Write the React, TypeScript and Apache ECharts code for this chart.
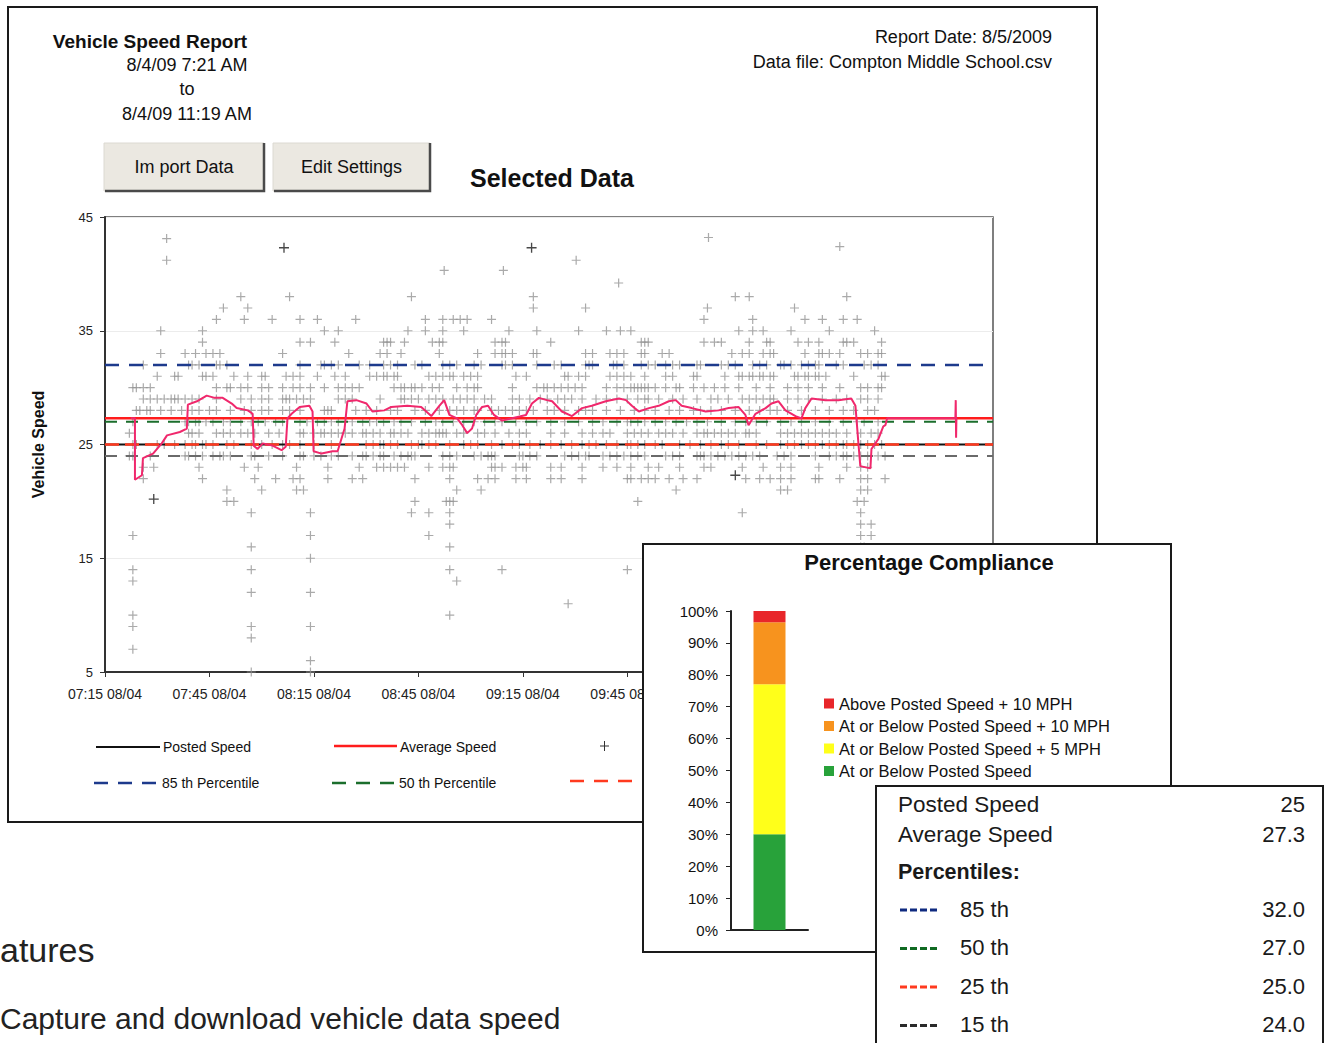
import React, { useEffect, useRef } from 'react';
import * as echarts from 'echarts';

// ---------- time axis ----------
const startClockMinutes = 7 * 60 + 15; // 07:15
const dateLabel = '08/04';
const axisMaxMinutes = 255;
const tickStepMinutes = 30;
const lastVisibleTick = 150; // later tick labels sit under the compliance panel

// ---------- scatter: vehicle speeds (minutes after 07:15, per speed row) ----------
const row38 = [39, 53, 88, 123, 181, 185, 213];
const row37 = [34, 41, 123, 138, 173, 198];
const row36 = [32, 40, 48, 56, 61, 72, 92, 97, 100, 102, 104, 111, 172, 186, 201, 206, 212, 216];
const row35 = [16, 28, 63, 67, 87, 92, 97, 103, 116, 124, 136, 144, 148, 151, 182, 186, 189, 197, 208, 221];
const row34 = [28, 56, 59, 66, 80, 81, 82, 86, 94, 96, 97, 112, 114, 115, 128, 154, 155, 156, 172, 175, 177, 185, 190, 191, 199, 202, 205, 212, 213, 215, 223];
const row33 = [16, 23, 26, 29, 31, 33, 51, 70, 79, 81, 85, 96, 107, 112, 114, 115, 117, 123, 124, 138, 140, 145, 147, 149, 154, 155, 160, 162, 180, 183, 185, 189, 191, 192, 201, 205, 206, 208, 211, 217, 219, 222, 223];
const row32 = [11, 24, 25, 27, 32, 33, 35, 56, 62, 63, 65, 67, 73, 76, 80, 82, 84, 89, 91, 97, 99, 101, 106, 108, 114, 115, 117, 124, 129, 131, 138, 139, 140, 146, 147, 149, 154, 156, 158, 161, 163, 165, 170, 171, 177, 179, 181, 186, 188, 190, 194, 195, 197, 200, 202, 204, 205, 210, 212, 218, 220, 222];
const row31 = [15, 20, 21, 28, 29, 31, 37, 41, 45, 46, 52, 54, 56, 61, 66, 69, 76, 78, 80, 81, 83, 84, 93, 95, 97, 99, 100, 103, 105, 107, 118, 121, 132, 133, 136, 138, 145, 147, 149, 151, 155, 161, 163, 169, 170, 178, 182, 183, 185, 186, 188, 189, 191, 192, 198, 199, 201, 202, 204, 205, 207, 215, 223, 224];
const row30 = [8, 9, 11, 13, 32, 35, 36, 39, 41, 45, 47, 51, 54, 56, 59, 63, 67, 69, 71, 73, 83, 85, 86, 88, 89, 91, 94, 96, 101, 104, 106, 107, 117, 124, 126, 127, 129, 131, 133, 135, 137, 144, 147, 149, 151, 152, 153, 154, 155, 156, 158, 161, 164, 165, 169, 172, 175, 178, 182, 187, 191, 196, 199, 202, 206, 211, 217, 219, 222, 223];
const row29 = [11, 13, 15, 17, 19, 20, 21, 23, 25, 27, 32, 39, 42, 45, 47, 51, 52, 53, 55, 57, 59, 67, 69, 71, 79, 85, 86, 88, 90, 93, 95, 97, 100, 102, 104, 106, 109, 111, 117, 119, 122, 125, 127, 130, 132, 134, 137, 141, 144, 147, 150, 153, 155, 156, 159, 163, 166, 170, 174, 176, 179, 183, 185, 187, 189, 191, 192, 196, 199, 202, 206, 210, 213, 217, 219, 222];
const row28 = [9, 10, 12, 13, 16, 19, 22, 25, 27, 30, 32, 36, 40, 42, 45, 47, 51, 53, 56, 63, 64, 65, 72, 75, 78, 82, 84, 89, 92, 96, 99, 101, 103, 106, 107, 111, 113, 115, 117, 119, 121, 123, 127, 129, 132, 136, 138, 140, 144, 148, 152, 155, 158, 162, 165, 169, 171, 174, 177, 181, 185, 188, 191, 193, 196, 200, 204, 208, 212, 215, 219, 221];
const row27 = [8, 23, 24, 26, 27, 29, 31, 34, 36, 39, 42, 44, 46, 49, 51, 56, 58, 61, 63, 65, 67, 71, 74, 76, 78, 80, 83, 85, 88, 92, 95, 97, 100, 103, 106, 109, 112, 114, 118, 121, 124, 128, 132, 136, 140, 143, 147, 150, 151, 153, 155, 158, 161, 164, 167, 170, 173, 177, 181, 184, 187, 190, 194, 197, 200, 204, 208, 212, 216, 218, 222];
const row26 = [7, 24, 25, 27, 32, 34, 36, 39, 41, 43, 47, 50, 56, 57, 60, 62, 63, 65, 67, 69, 71, 74, 75, 77, 79, 82, 83, 85, 87, 91, 93, 95, 96, 97, 98, 101, 103, 107, 109, 112, 116, 119, 121, 128, 132, 137, 140, 143, 145, 150, 152, 154, 156, 159, 161, 163, 166, 170, 172, 173, 175, 177, 179, 181, 184, 185, 187, 194, 196, 198, 200, 202, 204, 206, 208, 210, 213, 217, 220, 222];
const row25 = [8, 9, 15, 17, 20, 23, 25, 26, 28, 29, 31, 35, 37, 42, 45, 48, 51, 53, 56, 60, 65, 75, 77, 79, 80, 82, 84, 88, 90, 91, 93, 95, 99, 103, 105, 107, 111, 114, 117, 119, 122, 125, 128, 131, 134, 137, 139, 141, 144, 147, 150, 151, 153, 155, 158, 160, 165, 168, 171, 174, 177, 179, 182, 187, 190, 194, 196, 198, 200, 202, 204, 206, 208, 210, 212, 213, 215, 217, 219, 221, 223];
const row24 = [7, 8, 13, 23, 24, 26, 28, 31, 33, 34, 36, 42, 43, 47, 51, 56, 57, 60, 62, 65, 67, 71, 74, 75, 77, 79, 80, 83, 85, 87, 88, 89, 97, 99, 101, 106, 108, 110, 111, 112, 119, 120, 122, 124, 132, 134, 136, 138, 139, 143, 145, 147, 149, 151, 153, 155, 161, 163, 165, 170, 171, 172, 174, 176, 178, 180, 182, 184, 186, 188, 193, 195, 197, 204, 208, 210, 212, 213, 215, 217, 219, 222, 224];
const row23 = [11, 14, 27, 40, 44, 55, 64, 73, 78, 80, 82, 84, 86, 93, 97, 99, 100, 111, 112, 114, 118, 120, 121, 128, 131, 137, 143, 147, 151, 156, 159, 165, 172, 174, 183, 189, 194, 197, 205, 213, 217, 219];
const row22 = [11, 28, 43, 49, 54, 56, 64, 71, 74, 89, 99, 107, 110, 112, 118, 121, 128, 131, 137, 150, 151, 154, 156, 158, 162, 166, 170, 184, 188, 191, 194, 197, 204, 205, 211, 217, 219, 224];
const row21 = [35, 45, 55, 57, 101, 108, 164, 194, 196, 217, 219];
const row20 = [35, 37, 89, 98, 99, 100, 153, 216, 218];
const row19 = [42, 59, 88, 93, 99, 183, 217];
const row18 = [99, 217, 220];
const row17 = [8, 59, 93, 217, 220];
const row16 = [42, 99, 217, 218];
const row15 = [59];
const row14 = [8, 42, 99, 114, 150];
const row13 = [8, 101];
const row12 = [42, 59];
const row11 = [133];
const row10 = [8, 99];
const row9 = [8, 42, 59];
const row8 = [42];
const row7 = [8];
const row6 = [59];
const row5 = [42, 59];
const rowSpeeds = [38, 37, 36, 35, 34, 33, 32, 31, 30, 29, 28, 27, 26, 25, 24, 23, 22, 21, 20, 19, 18, 17, 16, 15, 14, 13, 12, 11, 10, 9, 8, 7, 6, 5];
const rowTimes = [row38, row37, row36, row35, row34, row33, row32, row31, row30, row29, row28, row27, row26, row25, row24, row23, row22, row21, row20, row19, row18, row17, row16, row15, row14, row13, row12, row11, row10, row9, row8, row7, row6, row5];

// high outliers
const outlierTimes = [17.7, 17.7, 173.3, 211, 135.3, 97.4, 114.4, 147.5];
const outlierSpeeds = [43.1, 41.2, 43.2, 42.4, 41.2, 40.3, 40.3, 39.2];
// darker (black) marks
const darkTimes = [14, 51.4, 122.5, 181];
const darkSpeeds = [20.2, 42.3, 42.3, 22.3];

// running average speed trace [minutes, mph]
const movingAvg: number[][] = [[7.4, 27.3], [8.6, 27.3], [8.6, 21.9], [10.6, 22.3], [10.9, 23.8], [13.8, 24.2], [16.3, 25.1], [17.8, 25.8], [21.5, 26.1], [23.5, 26.4], [23.8, 28.5], [26.4, 28.8], [29.2, 29.3], [31.5, 29.1], [33.8, 29.1], [36.4, 28.6], [37.8, 28.2], [41, 28.0], [42.4, 27.7], [42.7, 24.9], [43.8, 24.6], [45.3, 25.1], [48.1, 24.9], [50.7, 24.5], [51.9, 24.8], [52.4, 27.3], [53.6, 27.7], [55.9, 28.3], [58.7, 28.4], [59.6, 27.9], [59.9, 24.4], [62.2, 24.2], [65.3, 24.4], [66.8, 24.4], [68.8, 26.4], [69.6, 28.8], [72.2, 28.9], [75.1, 28.6], [76.8, 27.9], [80.2, 28.0], [82.2, 28.3], [86.8, 28.4], [90.8, 28.3], [93.7, 27.5], [96, 28.4], [97.4, 28.9], [98.9, 27.6], [101.1, 27.3], [102.6, 26.7], [104, 26.0], [105.4, 26.4], [106.6, 27.6], [108.3, 28.3], [110, 28.4], [111.7, 27.6], [114, 27.1], [116.9, 27.3], [120.9, 27.6], [122.6, 28.6], [124.6, 29.1], [126.9, 28.9], [128.4, 28.8], [131.2, 27.9], [134.1, 27.5], [137, 28.2], [139.8, 28.4], [143.8, 28.8], [147.6, 29.05], [149.6, 28.9], [151.3, 28.4], [153.3, 27.9], [156.2, 28.2], [159, 28.4], [161.9, 28.8], [163.9, 28.9], [165.6, 28.4], [168.5, 28.2], [172.5, 27.9], [176.2, 28.0], [179.1, 28.2], [181.9, 28.3], [183.9, 27.6], [184.8, 26.7], [186.8, 27.7], [189.7, 28.2], [191.4, 28.6], [193.4, 28.8], [195.4, 28.0], [198.3, 27.5], [200, 27.3], [201.1, 28.2], [202.9, 29.05], [206.9, 28.9], [210.6, 28.9], [214.3, 29.05], [215.5, 28.4], [216.3, 25.3], [216.9, 23.1], [219.8, 22.9], [220.1, 24.6], [222.1, 25.5], [223.5, 26.6], [224.1, 26.7], [224.6, 27.3], [244.2, 27.3], [244.3, 28.9], [244.4, 25.6], [244.5, 27.3]];

// ---------- summary statistics ----------
const postedSpeed = 25;
const averageSpeed = 27.3;
const percentileNames = ['85 th', '50 th', '25 th', '15 th'];
const percentileValues = [32.0, 27.0, 25.0, 24.0];
const percentileColors = ['#1d3a8c', '#1b6e2c', '#ff3a1f', '#6a6a6a'];
const percentileTableColors = ['#0f2a80', '#106a22', '#ff3a1f', '#2a2a2a'];

// ---------- compliance ----------
const complianceNames = ['Above Posted Speed + 10 MPH', 'At or Below Posted Speed + 10 MPH', 'At or Below Posted Speed + 5 MPH', 'At or Below Posted Speed'];
const complianceValues = [3.5, 19.5, 47.0, 30.0];
const complianceColors = ['#e8262a', '#f7931e', '#ffff1a', '#28a23a'];

const FONT = '"Liberation Sans", Arial, Helvetica, sans-serif';
const PLUS = 'path://M3.9,0H5.1V9H3.9ZM0,3.9H9V5.1H0Z';

function clockLabel(v: number) {
  if (v > lastVisibleTick) return '';
  const total = startClockMinutes + v;
  const h = Math.floor(total / 60);
  const m = Math.round(total % 60);
  return String(h).padStart(2, '0') + ':' + String(m).padStart(2, '0') + ' ' + dateLabel;
}

function txt(text: string, x: number, y: number, size: number, opts: any = {}) {
  const align = opts.align || 'left';
  return {
    type: 'text',
    z: 50,
    style: {
      text,
      x,
      y,
      font: (opts.bold ? 'bold ' : '') + size + 'px ' + FONT,
      fill: opts.color || '#111',
      textAlign: align,
      align,
      textVerticalAlign: 'middle',
      verticalAlign: 'middle',
    },
  };
}

function hline(x1: number, x2: number, y: number, color: string, width: number, dash?: number[]) {
  return {
    type: 'line',
    z: 50,
    shape: { x1, y1: y, x2, y2: y },
    style: { stroke: color, lineWidth: width, lineDash: dash || null },
  };
}

function button(x: number, y: number, w: number, h: number, label: string) {
  return [
    { type: 'rect', z: 40, shape: { x, y, width: w, height: h }, style: { fill: '#ebe8e1', stroke: '#dcd9d2', lineWidth: 1 } },
    { type: 'polyline', z: 41, shape: { points: [[x + 1, y + h], [x + w, y + h], [x + w, y]] }, style: { stroke: '#4a4a4a', lineWidth: 2.5, fill: 'none' } },
    txt(label, x + w / 2, y + h / 2, 18, { align: 'center' }),
  ];
}

function mainOption() {
  const scatterData: number[][] = [];
  rowSpeeds.forEach((s, i) => rowTimes[i].forEach((t) => scatterData.push([t, s])));
  outlierTimes.forEach((t, i) => scatterData.push([t, outlierSpeeds[i]]));
  const darkData = darkTimes.map((t, i) => [t, darkSpeeds[i]]);
  const flat = (v: number) => [[0, v], [axisMaxMinutes, v]];

  const series: any[] = [
    { name: 'Vehicles', type: 'scatter', data: scatterData, symbol: PLUS, symbolSize: 9, itemStyle: { color: '#959595' }, z: 2 },
    { name: 'Vehicles (dark)', type: 'scatter', data: darkData, symbol: PLUS, symbolSize: 10, itemStyle: { color: '#1a1a1a' }, z: 2 },
    { name: 'Posted Speed', type: 'line', data: flat(postedSpeed), symbol: 'none', lineStyle: { color: '#111', width: 2 }, z: 3 },
    { name: '15 th Percentile', type: 'line', data: flat(percentileValues[3]), symbol: 'none', lineStyle: { color: percentileColors[3], width: 2, type: [12, 9] }, z: 3 },
    { name: '85 th Percentile', type: 'line', data: flat(percentileValues[0]), symbol: 'none', lineStyle: { color: percentileColors[0], width: 2.5, type: [14, 10] }, z: 3 },
    { name: '25 th Percentile', type: 'line', data: flat(percentileValues[2]), symbol: 'none', lineStyle: { color: percentileColors[2], width: 2.5, type: [14, 6] }, z: 4 },
    { name: '50 th Percentile', type: 'line', data: flat(percentileValues[1]), symbol: 'none', lineStyle: { color: percentileColors[1], width: 2, type: [12, 9] }, z: 4 },
    { name: 'Average Speed', type: 'line', data: flat(averageSpeed), symbol: 'none', lineStyle: { color: '#ff1c1c', width: 2.5 }, z: 5 },
    { name: 'Running Average', type: 'line', data: movingAvg, symbol: 'none', lineStyle: { color: '#f0286c', width: 2 }, z: 6 },
  ];

  const graphic: any[] = [
    { type: 'rect', z: 1, shape: { x: 8, y: 7, width: 1089, height: 815 }, style: { fill: 'none', stroke: '#1a1a1a', lineWidth: 2 } },
    txt('Vehicle Speed Report', 150, 41, 19, { bold: true, align: 'center' }),
    txt('8/4/09 7:21 AM', 187, 65, 18, { align: 'center' }),
    txt('to', 187, 89, 18, { align: 'center' }),
    txt('8/4/09 11:19 AM', 187, 114, 18, { align: 'center' }),
    txt('Report Date: 8/5/2009', 1052, 37, 18, { align: 'right' }),
    txt('Data file: Compton Middle School.csv', 1052, 62, 18, { align: 'right' }),
    ...button(104, 143, 160, 48, 'Im port Data'),
    ...button(273, 143, 157, 48, 'Edit Settings'),
    txt('Selected Data', 552, 178, 25, { bold: true, align: 'center' }),
    // legend
    hline(96, 160, 747, '#111', 2),
    txt('Posted Speed', 163, 747, 14),
    hline(334, 397, 746, '#ff1c1c', 2.5),
    txt('Average Speed', 400, 747, 14),
    { type: 'line', z: 50, shape: { x1: 600, y1: 746, x2: 609, y2: 746 }, style: { stroke: '#333', lineWidth: 1 } },
    { type: 'line', z: 50, shape: { x1: 604.5, y1: 741, x2: 604.5, y2: 751 }, style: { stroke: '#333', lineWidth: 1 } },
    hline(94, 160, 783, percentileColors[0], 2.5, [14, 10]),
    txt('85 th Percentile', 162, 783, 14),
    hline(332, 397, 783, percentileColors[1], 2.5, [14, 10]),
    txt('50 th Percentile', 399, 783, 14),
    hline(570, 650, 781, percentileColors[2], 2.5, [14, 10]),
    // page text behind the report
    txt('atures', 0, 950, 34, { color: '#222' }),
    txt('Capture and download vehicle data speed', 0, 1018, 30, { color: '#222' }),
  ];

  return {
    animation: false,
    backgroundColor: '#ffffff',
    textStyle: { fontFamily: FONT },
    grid: { left: 105, top: 217, width: 888, height: 455, show: true, borderColor: '#555', borderWidth: 1.5, backgroundColor: 'transparent' },
    xAxis: {
      type: 'value', min: 0, max: axisMaxMinutes, interval: tickStepMinutes,
      axisLine: { lineStyle: { color: '#333', width: 2 } },
      axisTick: { length: 5, lineStyle: { color: '#333' } },
      axisLabel: { formatter: clockLabel, fontSize: 14, color: '#222', margin: 15 },
      splitLine: { show: false },
    },
    yAxis: {
      type: 'value', min: 5, max: 45, interval: 10,
      name: 'Vehicle Speed', nameLocation: 'middle', nameGap: 59, nameRotate: 90,
      nameTextStyle: { fontWeight: 'bold', fontSize: 16, color: '#111' },
      axisLine: { show: true, lineStyle: { color: '#333', width: 2 } },
      axisTick: { show: true, length: 5, lineStyle: { color: '#333' } },
      axisLabel: { fontSize: 13, color: '#222', margin: 12 },
      splitLine: { show: true, lineStyle: { color: '#ececec' } },
    },
    series,
    graphic,
  };
}

function complianceOption() {
  return {
    animation: false,
    backgroundColor: '#ffffff',
    textStyle: { fontFamily: FONT },
    grid: { left: 89, top: 68, width: 77, height: 319 },
    legend: {
      orient: 'vertical', left: 177, top: 147, itemWidth: 10, itemHeight: 10, itemGap: 5.5,
      icon: 'rect', data: complianceNames,
      textStyle: { fontSize: 16.5, color: '#111', fontFamily: FONT },
    },
    xAxis: {
      type: 'category', data: ['Compliance'],
      axisLine: { lineStyle: { color: '#222', width: 2 } },
      axisTick: { show: false }, axisLabel: { show: false },
    },
    yAxis: {
      type: 'value', min: 0, max: 100, interval: 10,
      axisLine: { show: true, lineStyle: { color: '#222', width: 2 } },
      axisTick: { show: true, length: 5, lineStyle: { color: '#222' } },
      axisLabel: { formatter: '{value}%', fontSize: 15, color: '#111', margin: 13 },
      splitLine: { show: false },
    },
    series: complianceNames.map((n, i) => ({ name: n, type: 'bar', stack: 'c', barWidth: 32, data: [complianceValues[i]], itemStyle: { color: complianceColors[i] } })).reverse(),
    graphic: [
      { type: 'rect', z: 0, shape: { x: 1, y: 1, width: 528, height: 408 }, style: { fill: 'none', stroke: '#1a1a1a', lineWidth: 2 } },
      txt('Percentage Compliance', 287, 19, 22, { bold: true, align: 'center' }),
    ],
  };
}

function statsOption() {
  const g: any[] = [
    { type: 'rect', z: 0, shape: { x: 1, y: 1, width: 447, height: 300 }, style: { fill: 'none', stroke: '#1a1a1a', lineWidth: 2 } },
    txt('Posted Speed', 23, 19, 22.5, { color: '#1a1a1a' }),
    txt(String(postedSpeed), 430, 19, 22, { align: 'right', color: '#1a1a1a' }),
    txt('Average Speed', 23, 49, 22.5, { color: '#1a1a1a' }),
    txt(averageSpeed.toFixed(1), 430, 49, 22, { align: 'right', color: '#1a1a1a' }),
    txt('Percentiles:', 23, 87, 21.5, { bold: true, color: '#1a1a1a' }),
  ];
  percentileNames.forEach((n, i) => {
    const y = 125 + i * 38.5;
    g.push(hline(25, 62, y, percentileTableColors[i], 3, [7, 3]));
    g.push(txt(n, 85, y - 1, 22, { color: '#1a1a1a' }));
    g.push(txt(percentileValues[i].toFixed(1), 430, y - 1, 22, { align: 'right', color: '#1a1a1a' }));
  });
  return { animation: false, backgroundColor: '#ffffff', graphic: g };
}

export default function App() {
  const mainRef = useRef<HTMLDivElement>(null);
  const compRef = useRef<HTMLDivElement>(null);
  const statRef = useRef<HTMLDivElement>(null);
  useEffect(() => {
    const main = echarts.init(mainRef.current!, null, { renderer: 'svg' });
    main.setOption(mainOption() as any);
    const comp = echarts.init(compRef.current!, null, { renderer: 'svg' });
    comp.setOption(complianceOption() as any);
    const stat = echarts.init(statRef.current!, null, { renderer: 'svg' });
    stat.setOption(statsOption() as any);
    return () => {
      main.dispose();
      comp.dispose();
      stat.dispose();
    };
  }, []);
  return (
    <div style={{ position: 'fixed', left: 0, top: 0, width: 1333, height: 1043, background: '#fff', overflow: 'hidden' }}>
      <div ref={mainRef} style={{ position: 'absolute', left: 0, top: 0, width: 1333, height: 1043 }} />
      <div ref={compRef} style={{ position: 'absolute', left: 642, top: 543, width: 530, height: 410, background: '#fff' }} />
      <div ref={statRef} style={{ position: 'absolute', left: 875, top: 785, width: 449, height: 258, background: '#fff' }} />
    </div>
  );
}
